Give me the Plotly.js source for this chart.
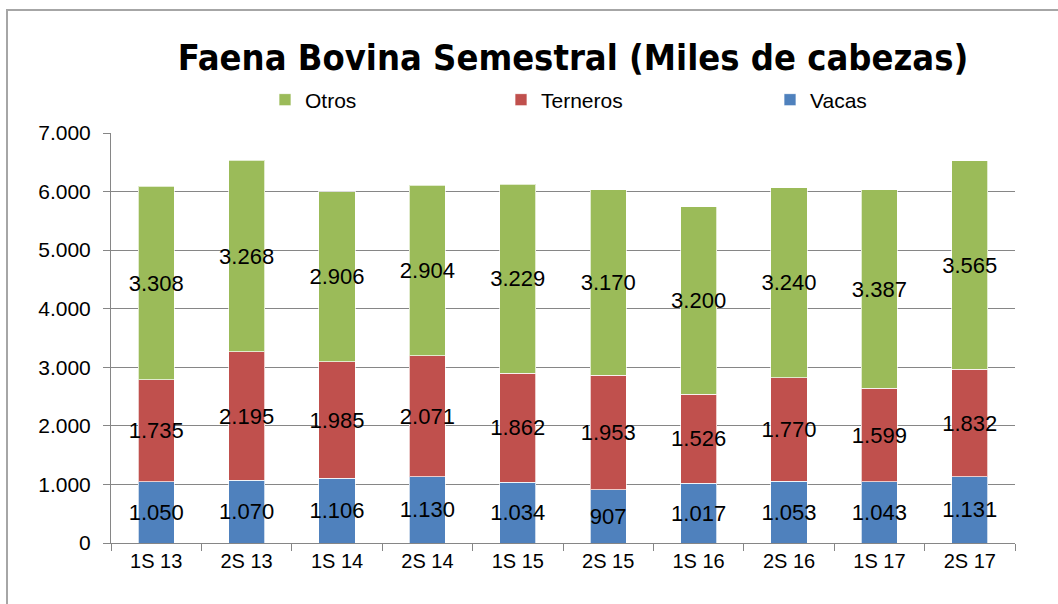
<!DOCTYPE html>
<html>
<head>
<meta charset="utf-8">
<script src="https://cdn.plot.ly/plotly-3.0.1.min.js"></script>
<style>html,body{margin:0;padding:0;background:#fff;}#chart{width:1058px;height:604px;}</style>
</head>
<body>
<div id="chart"></div>
<script>
var categories = ["1S 13","2S 13","1S 14","2S 14","1S 15","2S 15","1S 16","2S 16","1S 17","2S 17"];
var vacas = [1050,1070,1106,1130,1034,907,1017,1053,1043,1131];
var terneros = [1735,2195,1985,2071,1862,1953,1526,1770,1599,1832];
var otros = [3308,3268,2906,2904,3229,3170,3200,3240,3387,3565];
var yTicks = [0,1000,2000,3000,4000,5000,6000,7000];

var W = 1058, H = 604;
var L = 111, R = 1015, T = 133, B = 543;
var pw = R - L, ph = B - T;
function px(x){ return (x - L) / pw; }
function py(y){ return (B - y) / ph; }

var labelFont = {family: "Liberation Sans, Arial, sans-serif", size: 22, color: "#000"};

function mk(name, vals, color, legendId){
  return {
    type: "bar", name: name, x: categories, y: vals,
    marker: {color: color, line: {color: "rgba(255,255,255,0.7)", width: 1}},
    texttemplate: "%{y:,}", textposition: "inside", insidetextanchor: "middle",
    textangle: 0, constraintext: "none", textfont: labelFont,
    legend: legendId, hoverinfo: "skip"
  };
}

var data = [
  mk("Vacas", vacas, "#4F81BD", "legend3"),
  mk("Terneros", terneros, "#C0504D", "legend2"),
  mk("Otros", otros, "#9BBB59", "legend")
];

function leg(xpix){
  return {x: px(xpix), xanchor: "left", y: py(100), yanchor: "middle", orientation: "h",
    font: {family: "Liberation Sans, Arial, sans-serif", size: 21, color: "#000"},
    bgcolor: "rgba(0,0,0,0)", borderwidth: 0};
}

var layout = {
  width: W, height: H,
  margin: {l: L, r: W - R, t: T, b: H - B, pad: 0},
  paper_bgcolor: "#fff", plot_bgcolor: "#fff",
  separators: ",.",
  barmode: "stack", bargap: 0.6,
  showlegend: true,
  title: {text: "Faena Bovina Semestral (Miles de cabezas)",
    font: {family: "Liberation Sans Narrow, DejaVu Sans Condensed, Arial Narrow, sans-serif", size: 36, color: "#000", weight: "bold"},
    xref: "paper", x: px(573), xanchor: "center",
    yref: "container", y: 1 - 57 / H, yanchor: "middle"},
  legend: leg(265),
  legend2: leg(501),
  legend3: leg(770),
  xaxis: {type: "category", showline: true, linecolor: "#868686", linewidth: 1,
    ticks: "outside", tickson: "boundaries", ticklen: 7, tickcolor: "#868686",
    tickfont: {family: "Liberation Sans, Arial, sans-serif", size: 20, color: "#000"},
    showgrid: false, fixedrange: true},
  yaxis: {range: [0, 7000], tickvals: yTicks, tickformat: ",", showline: true,
    linecolor: "#868686", linewidth: 1, ticks: "outside", ticklen: 7, tickcolor: "#868686",
    showgrid: true, gridcolor: "#868686", gridwidth: 1, zeroline: false,
    tickfont: {family: "Liberation Sans, Arial, sans-serif", size: 21, color: "#000"},
    ticklabelstandoff: 8, fixedrange: true},
  shapes: [{type: "rect", xref: "paper", yref: "paper",
    x0: px(7), x1: px(1070), y0: py(10), y1: py(620),
    line: {color: "#A6A6A6", width: 2}, fillcolor: "rgba(0,0,0,0)", layer: "below"}]
};

Plotly.newPlot("chart", data, layout, {displayModeBar: false, staticPlot: true});
</script>
</body>
</html>
